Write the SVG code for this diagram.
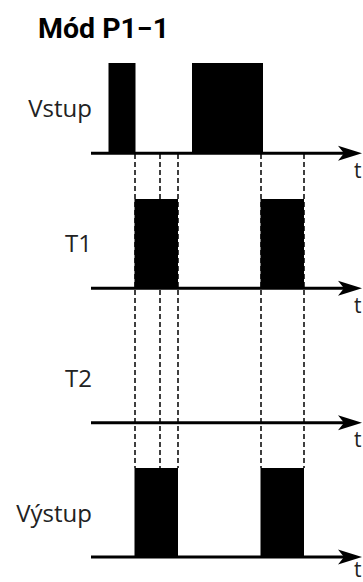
<svg xmlns="http://www.w3.org/2000/svg" width="363" height="582" viewBox="0 0 363 582">
<style>
.title{font-family:Roboto,"Liberation Sans",sans-serif;font-weight:700;font-size:27px;fill:#000}
.lbl{font-family:"Open Sans","Noto Sans",sans-serif;font-size:24px;fill:#222;text-anchor:end}
.t{font-family:"Open Sans","Noto Sans",sans-serif;font-size:21px;fill:#222}
.axis{stroke:#000;stroke-width:3;fill:none;marker-end:url(#arr)}
.dash{stroke:#000;stroke-width:1.5;stroke-dasharray:5 3;fill:none}
.pulse{fill:#000}
</style>
<defs>
<marker id="arr" markerUnits="userSpaceOnUse" markerWidth="26" markerHeight="16" viewBox="0 0 26 16" refX="6" refY="8" orient="auto">
<path d="M0,0.5 L24,8 L0,15.5 L6,8 Z" fill="#000"/>
</marker>
</defs>
<text class="title" x="38" y="38" textLength="131" lengthAdjust="spacingAndGlyphs">Mód P1−1</text>
<g id="connectors">
<line class="dash" x1="135" y1="154" x2="135" y2="468"/>
<line class="dash" x1="160" y1="154" x2="160" y2="468"/>
<line class="dash" x1="178" y1="154" x2="178" y2="468"/>
<line class="dash" x1="261" y1="154" x2="261" y2="468"/>
<line class="dash" x1="304" y1="154" x2="304" y2="468"/>
</g>
<g id="vstup">
<rect class="pulse" x="108.5" y="63" width="27" height="90"/>
<rect class="pulse" x="192" y="63" width="71" height="90"/>
<line class="axis" x1="91" y1="153.3" x2="344" y2="153.3"/>
<text class="lbl" x="92" y="117">Vstup</text>
<text class="t" x="354" y="178">t</text>
</g>
<g id="t1">
<rect class="pulse" x="134.5" y="199" width="43.5" height="89"/>
<rect class="pulse" x="260.5" y="199" width="43.5" height="89"/>
<line class="axis" x1="91" y1="288.3" x2="344" y2="288.3"/>
<text class="lbl" x="92" y="252">T1</text>
<text class="t" x="354" y="313">t</text>
</g>
<g id="t2">
<line class="axis" x1="91" y1="422.7" x2="344" y2="422.7"/>
<text class="lbl" x="92" y="387">T2</text>
<text class="t" x="354" y="447">t</text>
</g>
<g id="vystup">
<rect class="pulse" x="134.5" y="468" width="43.5" height="89"/>
<rect class="pulse" x="260.5" y="468" width="43.5" height="89"/>
<line class="axis" x1="91" y1="557" x2="344" y2="557"/>
<text class="lbl" x="92" y="522">Výstup</text>
<text class="t" x="354" y="577">t</text>
</g>
</svg>
